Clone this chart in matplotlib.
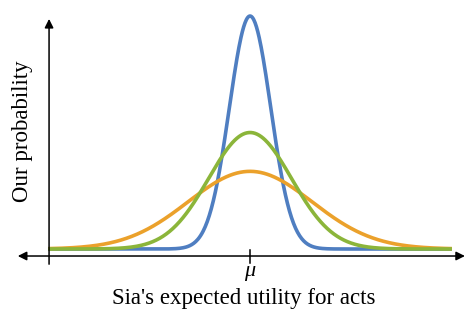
import numpy as np
import matplotlib
matplotlib.use("Agg")
import matplotlib.pyplot as plt

# three normal curves around the same mean
mu = 0.0
sigmas = [1.0, 3.0, 2.0]          # blue, orange, green (drawing order)
colors = ["#4F7EC1", "#EBA12B", "#8BB53A"]
x_span = 9.75
tick_label = r"$\mu$"
xlabel = "Sia's expected utility for acts"
ylabel = "Our probability"

plt.rcParams["font.family"] = ["Liberation Serif", "DejaVu Serif"]
plt.rcParams["mathtext.fontset"] = "custom"
plt.rcParams["mathtext.it"] = "Liberation Serif:italic"

fig = plt.figure(figsize=(4.67, 3.14), dpi=100)
ax = fig.add_axes([0, 0, 1, 1])
ax.set_xlim(-12.08, 10.48)
ax.set_ylim(-0.1113, 0.4264)
ax.axis("off")

xs = np.linspace(mu - x_span, mu + x_span, 600)
for s, c in zip(sigmas, colors):
    ys = np.exp(-0.5 * ((xs - mu) / s) ** 2) / (s * np.sqrt(2 * np.pi))
    ax.plot(xs, ys, color=c, lw=2.6, solid_capstyle="butt")

# axes with arrow heads
arrow = dict(arrowstyle="<|-|>", color="black", lw=1.1, mutation_scale=13,
             shrinkA=0, shrinkB=0)
ax.annotate("", xy=(10.38, -0.012), xytext=(-11.22, -0.012), arrowprops=arrow)
ax.annotate("", xy=(-9.71, 0.394), xytext=(-9.71, -0.026),
            arrowprops=dict(arrow, arrowstyle="-|>"))

# tick at the mean
ax.plot([mu, mu], [-0.002, -0.024], color="black", lw=1.1)
ax.text(mu, -0.042, tick_label, ha="center", va="center", fontsize=16)

ax.text(-0.29, -0.084, xlabel, ha="center", va="center", fontsize=16.5)
ax.text(-11.0, 0.202, ylabel, ha="center", va="center", fontsize=16.5,
        rotation=90)

plt.savefig("out.png", dpi=100)
